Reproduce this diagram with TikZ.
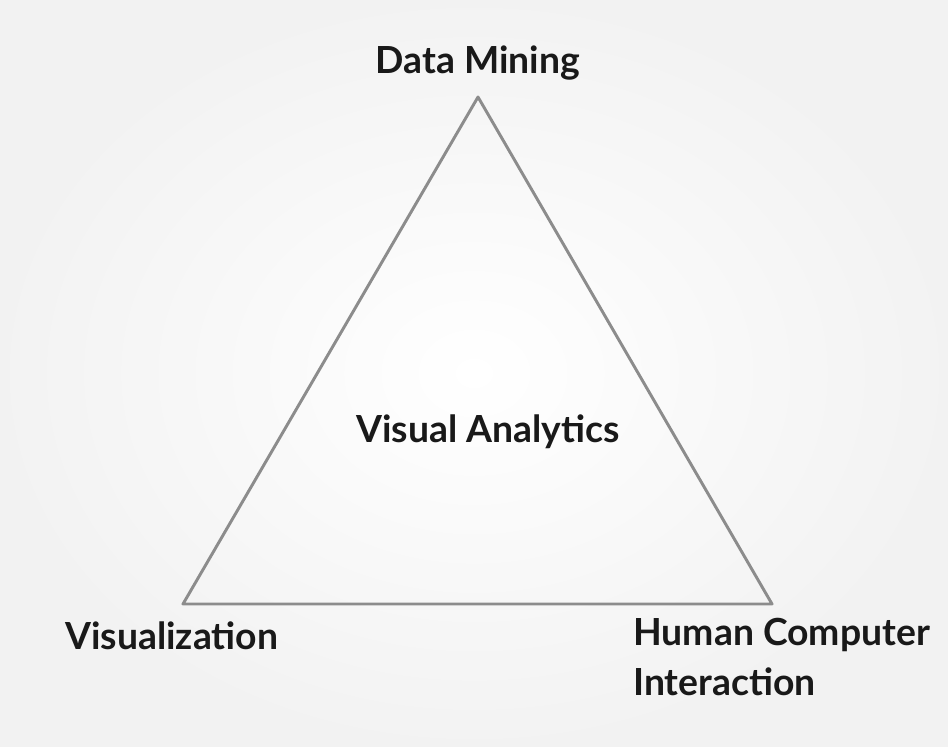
\documentclass[tikz,border=0pt]{standalone}
\usepackage{fontspec}
\setmainfont{Lato}
\begin{document}
\begin{tikzpicture}[x=0.75pt,y=-0.75pt,
  lbl/.style={font=\fontsize{28}{38}\selectfont\bfseries, text=black!90, inner sep=0pt},
  edge/.style={draw=black!45, line width=2.2pt, line join=round}]
\useasboundingbox (0,0) rectangle (948,746);
\shade[inner color=white, outer color=black!5] (0,0) rectangle (948,746);
\coordinate (t) at (478,97);
\coordinate (l) at (183,604);
\coordinate (r) at (772,604);
\draw[edge] (t) -- (l) -- (r) -- cycle;
\node[lbl] (dm) at (478,63) {Data Mining};
\node[lbl] (va) at (488,432) {Visual Analytics};
\node[lbl, anchor=west] (vis) at (65,636) {Visualization};
\node[lbl, anchor=west, align=left] (hci) at (633,657) {Human Computer\\Interaction};
\end{tikzpicture}
\end{document}
